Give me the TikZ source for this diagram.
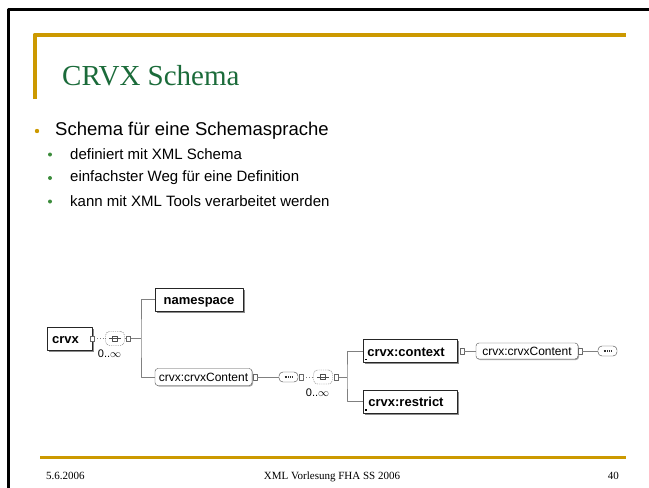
\documentclass[tikz,border=0pt]{standalone}
\usepackage{fontspec}
\setmainfont{Liberation Serif}
\setsansfont{Liberation Sans}
\usetikzlibrary{positioning,calc,shadows}
\definecolor{gold}{HTML}{CC9900}
\definecolor{titlegreen}{HTML}{1B6B3A}
\definecolor{dotgreen}{HTML}{3C8C3C}
\definecolor{wire}{HTML}{808080}
\tikzset{
  every picture/.append style={line join=round},
  elem/.style={draw=black!85, fill=white, rectangle, inner sep=0pt, minimum height=23,
    text height=11pt, text depth=1pt,
    font=\sffamily\bfseries\fontsize{13}{13}\selectfont,
    drop shadow={shadow xshift=1.6pt, shadow yshift=-1.6pt, fill=black!45, opacity=1}},
  eref/.style={draw=black!70, fill=white, rounded corners=3pt, inner sep=0pt, minimum height=17,
    text height=9.6pt, text depth=1.5pt,
    font=\sffamily\fontsize{12}{12}\selectfont,
    drop shadow={shadow xshift=1pt, shadow yshift=-1pt, fill=black!35, opacity=1}},
  port/.style={draw=black!60, fill=white, rectangle, inner sep=0pt, minimum width=4.5, minimum height=5.5},
  seqbox/.style={draw=black!75, fill=white, rounded corners=4pt, inner sep=0pt, minimum width=19, minimum height=10},
  seqopt/.style={draw=black!60, dashed, dash pattern=on 1.2pt off 1pt, fill=white, rounded corners=4pt,
    inner sep=0pt, minimum width=19, minimum height=14},
  wireline/.style={draw=wire, line width=0.7pt},
  card/.style={font=\sffamily\fontsize{11}{11}\selectfont},
  mainitem/.style={anchor=west, inner sep=0pt, font=\sffamily\fontsize{18.5}{18.5}\selectfont},
  subitem/.style={anchor=west, inner sep=0pt, font=\sffamily\fontsize{15}{15}\selectfont},
  foot/.style={anchor=base, inner sep=0pt, font=\fontsize{11}{11}\selectfont}
}
\newcommand\seqdots[1]{\draw[black!80, line width=1.2pt, dash pattern=on 1pt off 0.8pt] ($(#1)+(-4,0)$) -- ($(#1)+(4,0)$);}
\newcommand\optglyph[1]{%
  \draw[black!70, line width=0.5pt] ($(#1)+(-2.5,-2.5)$) rectangle ($(#1)+(2.5,2.5)$);
  \draw[black!70, line width=0.5pt] ($(#1)+(-6,0)$) -- ($(#1)+(6,0)$);}

\begin{document}
\begin{tikzpicture}[x=1pt,y=-1pt]
  \useasboundingbox (0,0) rectangle (649,488);
  \draw[line width=2.5pt] (8.5,488) -- (8.5,9.5) -- (649,9.5);
  \draw[gold, line width=4pt] (34.7,99) -- (34.7,34.5) -- (626,34.5);
  \draw[gold, line width=3pt] (40,457) -- (626,457);

  \node[anchor=base west, inner sep=0pt, text=titlegreen, font=\fontsize{29}{29}\selectfont] (title) at (62,85) {CRVX Schema};

  \node[mainitem] (main) at (55,131) {Schema für eine Schemasprache};
  \fill[gold] ($(main.west)+(-18,0)$) circle (2.2);
  \foreach \txt [count=\i] in {definiert mit XML Schema, einfachster Weg für eine Definition, kann mit XML Tools verarbeitet werden} {
    \node[subitem] (sub\i) at (70,{131+23.5*\i}) {\txt};
    \fill[dotgreen] ($(sub\i.west)+(-20,0)$) circle (2);
  }

  \node[elem, minimum width=45] (crvx) at (69.5,338.5) {crvx\hspace*{8pt}};
  \node[port] (p1) at (92,338.5) {};
  \node[seqopt] (opt1) at (115,338.5) {};
  \optglyph{opt1}
  \node[card, below=1pt of opt1.south east, anchor=north east] (card1) {0..\(\infty\)};
  \node[port] (p2) at (128,338.5) {};
  \coordinate (fork1) at (141,338.5);

  \node[elem, minimum width=88] (ns) at (199,299.5) {namespace};
  \node[eref, minimum width=97] (cc1) at (203.5,377) {crvx:crvxContent};
  \node[port] (p3) at (255,377) {};
  \node[seqbox] (seq2) at (288.5,377) {};
  \seqdots{seq2}
  \node[port] (p4) at (301,377) {};
  \node[seqopt] (opt2) at (323,377) {};
  \optglyph{opt2}
  \node[card, below=1pt of opt2.south east, anchor=north east] (card2) {0..\(\infty\)};
  \node[port] (p5) at (336,377) {};
  \coordinate (fork2) at (347,377);

  \node[elem, minimum width=94] (ctx) at (410,351) {crvx:context\hspace*{8pt}};
  \node[elem, minimum width=94] (rst) at (410,401.5) {crvx:restrict\hspace*{8pt}};
  \fill ($(ctx.south west)+(2.5,-2.5)$) rectangle ++(1.5,-1.5);
  \fill ($(rst.south west)+(2.5,-2.5)$) rectangle ++(1.5,-1.5);
  \node[port] (p6) at (462,351) {};
  \node[eref, minimum width=102, minimum height=16] (cc2) at (527,351) {crvx:crvxContent};
  \node[port] (p7) at (580,351) {};
  \node[seqbox] (seq4) at (607.5,351) {};
  \seqdots{seq4}

  \draw[wireline, dotted] (p1) -- (opt1);
  \draw[wireline, dotted] (opt1) -- (p2);
  \draw[wireline] (p2) -- (fork1);
  \draw[wireline] (ns.west) -| (fork1) |- (cc1.west);
  \draw[wireline] (p3) -- (seq2);
  \draw[wireline, dotted] (p4) -- (opt2);
  \draw[wireline] (p5) -- (fork2);
  \draw[wireline] (ctx.west) -| (fork2) |- (rst.west);
  \draw[wireline] (p6) -- (cc2);
  \draw[wireline] (p7) -- (seq4);
  \node[port] at (p1) {};
  \node[port] at (p2) {};
  \node[port] at (p5) {};

  \node[foot, anchor=base west] (date) at (46,479) {5.6.2006};
  \node[foot] (event) at (332,479) {XML Vorlesung FHA SS 2006};
  \node[foot, anchor=base east] (page) at (619,479) {40};
\end{tikzpicture}
\end{document}
